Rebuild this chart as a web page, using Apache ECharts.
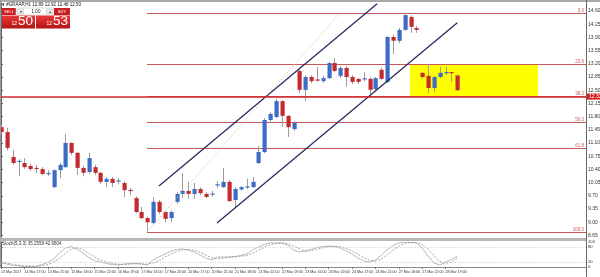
<!DOCTYPE html>
<html><head><meta charset="utf-8">
<script src="https://cdn.jsdelivr.net/npm/echarts@6/dist/echarts.min.js"></script>
<style>html,body{margin:0;padding:0;background:#fff;overflow:hidden}#c{width:600px;height:277px}</style>
</head><body><div id="c"></div>
<script>
// ---------------- data ----------------
const symbolName = '#GRAAP,H1';
const opens  = [11.52,11.39,10.73,10.60,10.57,10.49,10.43,10.41,10.28,9.93,10.38,10.46,11.10,10.84,10.44,10.33,10.46,10.31,10.07,10.15,10.08,10.04,9.85,9.64,9.27,9.11,8.98,9.54,9.27,9.11,9.54,9.75,9.83,9.75,9.88,9.75,9.74,9.98,9.93,10.07,9.59,9.87,9.93,9.93,10.57,10.86,11.71,11.79,12.21,11.82,11.47,13.01,12.51,12.85,12.78,12.74,12.82,13.22,12.88,13.09,12.85,12.80,12.79,12.80,12.53,13.04,12.72,13.91,13.81,14.10,14.44,14.15,12.96,12.88,12.56,12.85,12.96,12.97,12.89];
const closes = [11.39,10.97,10.57,10.62,10.46,10.41,10.42,10.28,10.30,10.38,10.52,11.10,10.84,10.44,10.31,10.70,10.31,10.07,10.15,10.04,10.10,9.85,9.83,9.27,9.11,9.00,9.54,9.27,9.09,9.27,9.75,9.83,9.75,9.88,9.77,9.67,9.75,10.00,10.07,9.56,9.88,9.93,9.94,10.07,10.86,11.71,11.87,12.21,11.82,11.52,11.63,12.51,12.85,12.74,12.76,12.82,13.22,13.01,13.09,12.85,12.72,12.72,12.81,12.51,12.82,12.80,13.91,13.81,14.10,14.49,14.18,14.10,12.85,12.56,12.85,12.96,12.97,12.96,12.50];
const lows   = [11.34,10.91,10.52,10.22,10.41,10.36,10.30,10.25,10.22,9.90,10.17,10.44,10.78,10.25,10.22,10.28,10.25,10.01,9.93,9.93,10.01,9.67,9.72,9.24,9.08,8.74,8.95,9.22,9.00,9.00,9.48,9.64,9.62,9.62,9.72,9.64,9.67,9.91,9.91,9.54,9.38,9.83,9.88,9.91,10.54,10.83,11.63,11.76,11.52,11.26,11.42,12.43,12.21,12.69,12.72,12.69,12.80,12.98,12.82,12.59,12.66,12.66,12.74,12.37,12.48,12.77,12.69,13.46,13.75,14.07,14.02,14.02,12.80,12.43,12.45,12.82,12.90,12.72,12.48];
const highs  = [11.58,11.50,10.91,10.67,10.70,10.54,10.52,10.46,10.38,10.40,10.57,11.34,11.13,10.86,10.49,10.84,10.52,10.33,10.20,10.20,10.17,10.09,9.91,9.69,9.40,9.14,9.67,9.59,9.30,9.32,9.80,10.30,10.07,10.04,9.93,9.80,9.83,10.09,10.44,10.12,9.93,9.96,10.15,10.20,11.02,11.76,11.92,12.27,12.24,11.84,11.68,13.06,12.90,12.90,13.12,12.88,13.25,13.35,13.14,13.14,12.90,12.82,12.98,12.85,12.85,13.09,13.94,13.96,14.15,14.55,14.49,14.20,12.98,13.20,12.88,13.12,13.12,12.98,12.92];
const stochK = [16,12,6,4,2,3,3,10,18,32,56,76,82,72,56,38,26,20,14,10,8,12,14,14,12,8,28,40,52,62,70,72,68,60,48,36,28,40,40,40,42,46,52,68,80,90,96,96,96,88,68,60,64,70,78,82,84,82,76,64,52,36,24,20,28,48,68,86,96,100,98,96,76,44,16,8,20,30,42.7];
const stochD = [20,16,11,7,4,3,2,5,10,20,35,55,71,77,70,55,40,28,20,15,11,10,11,13,13,11,16,25,40,51,61,68,70,67,59,48,37,33,35,39,41,43,46,55,67,79,89,94,96,93,84,72,64,65,71,77,81,83,81,74,64,51,37,27,24,32,48,67,83,94,98,98,90,72,45,23,15,19,35.3];
const priceTicks = [8.65,9.00,9.35,9.70,10.05,10.40,10.75,11.10,11.45,11.80,12.15,12.50,12.85,13.20,13.55,13.90,14.25,14.60];
const stochTicks = [0,20,80,100];
const timeTickIndex = [0,4,8,12,16,20,24,28,32,36,40,44,48,52,56,60,64,68,72,76];
const timeTickLabels = ['13 Mar 2017','14 Mar 17:00','14 Mar 21:00','15 Mar 18:00','15 Mar 22:00','16 Mar 19:00','17 Mar 16:00','17 Mar 20:00','20 Mar 17:00','20 Mar 21:00','21 Mar 18:00','21 Mar 22:00','22 Mar 19:00','23 Mar 16:00','23 Mar 20:00','24 Mar 17:00','24 Mar 21:00','27 Mar 18:00','27 Mar 22:00','28 Mar 19:00'];
const fibAnchorIndex = [24.96, 57.95];
const fibAnchorPrice = [8.74, 14.55];
const fibLevels = [0, 23.6, 38.2, 50, 61.8, 100];
const channelUpper = [[27.0, 9.96], [64.3, 14.79]];
const channelLower = [[36.92, 8.98], [78.0, 14.29]];
const zoneIndex = [69.9, 91.8];
const zonePrice = [12.33, 13.18];
const hLinePrice = [12.33];
const bidAsk = [12.50, 12.53];
const lotSize = ['1.00'];
const stochValues = ['35.2558', '42.6804'];

// ---------------- chart ----------------
const FONT = 'Liberation Sans';
const N = opens.length;
const candleData = opens.map((o, i) => [i, o, closes[i], lows[i], highs[i]]);
const xMin = -1 / 5.85, xMax = 585 / 5.85;
const BULL = '#3b6dc6', BEAR = '#c62a30';

function renderCandle(params, api) {
  const i = api.value(0), o = api.value(1), c = api.value(2), l = api.value(3), h = api.value(4);
  const pO = api.coord([i, o]), pC = api.coord([i, c]), pL = api.coord([i, l]), pH = api.coord([i, h]);
  const cx = Math.round(pO[0]);
  const bull = c >= o;
  let top = Math.min(pO[1], pC[1]);
  let hgt = Math.abs(pO[1] - pC[1]);
  if (hgt < 1.2) { top -= (1.2 - hgt) / 2; hgt = 1.2; }
  return {
    type: 'group',
    children: [
      { type: 'line', shape: { x1: cx + 0.5, y1: pH[1], x2: cx + 0.5, y2: pL[1] }, style: { stroke: '#9c9c9c', lineWidth: 1 } },
      { type: 'rect', shape: { x: cx - 1.5, y: top, width: 4.2, height: hgt }, style: { fill: bull ? BULL : BEAR } }
    ]
  };
}

const lastIdx = N - 1;
const titleText = '\u25BE ' + symbolName + ' ' + [opens[lastIdx], highs[lastIdx], lows[lastIdx], closes[lastIdx]].map(v => v.toFixed(2)).join(' ');

const fibRange = fibAnchorPrice[1] - fibAnchorPrice[0];
const fibLineData = fibLevels.map(lv => [
  { name: lv.toFixed(1), coord: [fibAnchorIndex[0], fibAnchorPrice[1] - fibRange * lv / 100] },
  { coord: [xMax, fibAnchorPrice[1] - fibRange * lv / 100] }
]);

const chart = echarts.init(document.getElementById('c'), null, { renderer: 'canvas' });

const redGrad = new echarts.graphic.LinearGradient(0, 0, 0, 1, [
  { offset: 0, color: '#ea3a3a' }, { offset: 1, color: '#b31414' }
]);

chart.setOption({
  animation: false,
  backgroundColor: '#fff',
  textStyle: { fontFamily: FONT },
  grid: [
    { left: 0, right: 14, top: 3, height: 234, containLabel: false, outerBoundsMode: 'none' },
    { left: 0, right: 14, top: 242, height: 25, containLabel: false, outerBoundsMode: 'none' }
  ],
  xAxis: [
    { gridIndex: 0, type: 'value', min: xMin, max: xMax, show: false },
    {
      gridIndex: 1, type: 'value', min: xMin, max: xMax,
      axisLine: { show: true, lineStyle: { color: '#888', width: 1 } },
      axisTick: { show: true, customValues: timeTickIndex, length: 2, lineStyle: { color: '#777' } },
      axisLabel: {
        customValues: timeTickIndex, fontSize: 3.6, color: '#333', align: 'left', margin: 3, fontFamily: FONT,
        showMinLabel: true, showMaxLabel: true, hideOverlap: false,
        formatter: v => { const k = timeTickIndex.indexOf(Math.round(v)); return k >= 0 ? timeTickLabels[k] : ''; }
      },
      splitLine: { show: false }
    }
  ],
  yAxis: [
    {
      gridIndex: 0, type: 'value', position: 'right', min: 8.608, max: 14.812,
      axisLine: { show: true, lineStyle: { color: '#666' } },
      axisTick: { show: true, inside: false, length: 2, customValues: priceTicks, lineStyle: { color: '#666' } },
      axisLabel: { customValues: priceTicks, fontSize: 5, color: '#333', margin: 2, fontFamily: FONT, showMinLabel: true, showMaxLabel: true, formatter: v => v.toFixed(2) },
      splitLine: { show: false }
    },
    {
      gridIndex: 1, type: 'value', position: 'right', min: 0, max: 100,
      axisLine: { show: true, lineStyle: { color: '#666' } },
      axisTick: { show: true, length: 2, customValues: stochTicks, lineStyle: { color: '#666' } },
      axisLabel: { customValues: stochTicks, fontSize: 4.2, color: '#333', margin: 2, fontFamily: FONT, showMinLabel: true, showMaxLabel: true },
      splitLine: { show: false }
    }
  ],
  series: [
    {
      name: 'zone', type: 'line', xAxisIndex: 0, yAxisIndex: 0, data: [], z: 1,
      markArea: {
        silent: true, z: 1,
        itemStyle: { color: '#ffff00', opacity: 1 },
        data: [[{ coord: [zoneIndex[0], zonePrice[1]] }, { coord: [zoneIndex[1], zonePrice[0]] }]]
      }
    },
    {
      name: 'fib', type: 'line', xAxisIndex: 0, yAxisIndex: 0, data: [], z: 2,
      markLine: {
        silent: true, symbol: 'none', z: 2,
        lineStyle: { color: '#c9585a', width: 1, type: 'solid' },
        label: { show: true, position: 'insideEndTop', formatter: '{b}', fontSize: 4.5, color: '#c9585a', distance: [2, 0], fontFamily: FONT },
        data: fibLineData
      }
    },
    {
      name: 'hline', type: 'line', xAxisIndex: 0, yAxisIndex: 0, data: [], z: 3,
      markLine: {
        silent: true, symbol: 'none', z: 6,
        data: [
          {
            yAxis: hLinePrice[0],
            lineStyle: { color: '#d02a2a', width: 1.5, type: 'solid' },
            label: { show: true, position: 'end', distance: 1, formatter: hLinePrice[0].toFixed(2), color: '#fff', backgroundColor: '#d81c1c', fontSize: 5, padding: [1, 2, 0, 2], fontFamily: FONT }
          },
          {
            yAxis: closes[lastIdx],
            lineStyle: { opacity: 0 },
            label: { show: true, position: 'end', distance: 1, formatter: closes[lastIdx].toFixed(2), color: '#fff', backgroundColor: '#111', fontSize: 5, padding: [1, 2, 0, 2], fontFamily: FONT }
          }
        ]
      }
    },
    {
      name: 'candles', type: 'custom', xAxisIndex: 0, yAxisIndex: 0, z: 4, clip: true,
      renderItem: renderCandle,
      encode: { x: 0, y: [1, 2, 3, 4] },
      data: candleData
    },
    {
      name: 'channelUpper', type: 'line', xAxisIndex: 0, yAxisIndex: 0, z: 5, clip: true,
      symbol: 'none', lineStyle: { color: '#25255e', width: 1.2 }, data: channelUpper
    },
    {
      name: 'channelLower', type: 'line', xAxisIndex: 0, yAxisIndex: 0, z: 5, clip: true,
      symbol: 'none', lineStyle: { color: '#25255e', width: 1.2 }, data: channelLower
    },
    {
      name: 'fibDiagonal', type: 'line', xAxisIndex: 0, yAxisIndex: 0, z: 5, clip: true,
      symbol: 'none', lineStyle: { color: '#e2bf95', width: 1, type: [1, 1.5] },
      data: [[fibAnchorIndex[0], fibAnchorPrice[0]], [fibAnchorIndex[1], fibAnchorPrice[1]]]
    },
    {
      name: 'stochK', type: 'line', xAxisIndex: 1, yAxisIndex: 1, symbol: 'none',
      lineStyle: { color: '#b9b9b9', width: 1 },
      data: stochK.map((v, i) => [i, v]),
      markLine: {
        silent: true, symbol: 'none', label: { show: false },
        lineStyle: { color: '#cfcfcf', type: [1, 1.5], width: 1 },
        data: [{ yAxis: 20 }, { yAxis: 80 }]
      }
    },
    {
      name: 'stochD', type: 'line', xAxisIndex: 1, yAxisIndex: 1, symbol: 'none',
      lineStyle: { color: '#8f8f8f', width: 0.8, type: [2, 1.5] },
      data: stochD.map((v, i) => [i, v])
    }
  ],
  graphic: [
    { type: 'rect', z: 100, shape: { x: 0, y: 0, width: 600, height: 2 }, style: { fill: '#a9a9a9' } },
    { type: 'rect', z: 100, shape: { x: 0, y: 0, width: 1, height: 268 }, style: { fill: '#9a9a9a' } },
    { type: 'rect', z: 100, shape: { x: 0, y: 238, width: 586, height: 3 }, style: { fill: '#b6b6b6' } },
    { type: 'rect', z: 100, shape: { x: 586, y: 0, width: 1, height: 277 }, style: { fill: '#666' } },
    { type: 'text', z: 100, left: 2, top: 2.5, style: { text: titleText, fontSize: 4.5, fill: '#111', fontFamily: FONT } },
    { type: 'text', z: 100, left: 2, top: 241.5, style: { text: 'Stoch(5,3,3) ' + stochValues.join(' '), fontSize: 4.5, fill: '#333', fontFamily: FONT } },
    // trade panel
    { type: 'rect', z: 100, shape: { x: 2, y: 8, width: 14, height: 7 }, style: { fill: '#c81e1e' } },
    { type: 'text', z: 101, x: 9, y: 11.5, style: { text: 'SELL', fontSize: 4, fill: '#fff', align: 'center', verticalAlign: 'middle', fontFamily: FONT } },
    { type: 'rect', z: 100, shape: { x: 16, y: 8, width: 38, height: 7 }, style: { fill: '#fff', stroke: '#c8c8c8', lineWidth: 0.6 } },
    { type: 'rect', z: 101, shape: { x: 17.5, y: 9, width: 6, height: 5 }, style: { fill: '#ececec', stroke: '#bbb', lineWidth: 0.5 } },
    { type: 'text', z: 102, x: 20.5, y: 11.5, style: { text: '\u25BE', fontSize: 4, fill: '#333', align: 'center', verticalAlign: 'middle' } },
    { type: 'text', z: 101, x: 36, y: 11.5, style: { text: lotSize[0], fontSize: 4.5, fill: '#222', align: 'center', verticalAlign: 'middle', fontFamily: FONT } },
    { type: 'rect', z: 101, shape: { x: 46.5, y: 9, width: 6, height: 5 }, style: { fill: '#ececec', stroke: '#bbb', lineWidth: 0.5 } },
    { type: 'text', z: 102, x: 49.5, y: 11.5, style: { text: '\u25B4', fontSize: 4, fill: '#333', align: 'center', verticalAlign: 'middle' } },
    { type: 'rect', z: 100, shape: { x: 54, y: 8, width: 16, height: 7 }, style: { fill: '#c81e1e' } },
    { type: 'text', z: 101, x: 62, y: 11.5, style: { text: 'BUY', fontSize: 4, fill: '#fff', align: 'center', verticalAlign: 'middle', fontFamily: FONT } },
    { type: 'rect', z: 100, shape: { x: 2, y: 15.5, width: 33, height: 13 }, style: { fill: redGrad } },
    { type: 'rect', z: 100, shape: { x: 36, y: 15.5, width: 34, height: 13 }, style: { fill: redGrad } },
    { type: 'text', z: 101, x: 17, y: 26.5, style: { text: String(Math.floor(bidAsk[0])), fontSize: 5, fill: '#fff', align: 'right', verticalAlign: 'bottom', fontFamily: FONT } },
    { type: 'text', z: 101, x: 18, y: 28, style: { text: bidAsk[0].toFixed(2).split('.')[1], fontSize: 13.5, fill: '#fff', align: 'left', verticalAlign: 'bottom', fontFamily: FONT } },
    { type: 'text', z: 101, x: 52, y: 26.5, style: { text: String(Math.floor(bidAsk[1])), fontSize: 5, fill: '#fff', align: 'right', verticalAlign: 'bottom', fontFamily: FONT } },
    { type: 'text', z: 101, x: 53, y: 28, style: { text: bidAsk[1].toFixed(2).split('.')[1], fontSize: 13.5, fill: '#fff', align: 'left', verticalAlign: 'bottom', fontFamily: FONT } }
  ]
});
</script>
</body></html>
